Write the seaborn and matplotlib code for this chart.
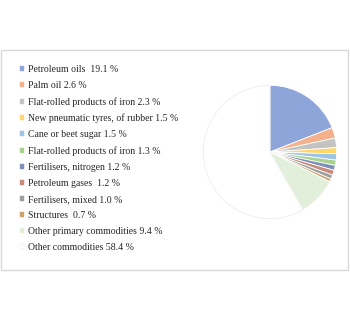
import matplotlib
matplotlib.use("Agg")
import matplotlib.pyplot as plt
from matplotlib.patches import Rectangle, Patch
import seaborn as sns

labels = [
    "Petroleum oils  19.1 %",
    "Palm oil 2.6 %",
    "Flat-rolled products of iron 2.3 %",
    "New pneumatic tyres, of rubber 1.5 %",
    "Cane or beet sugar 1.5 %",
    "Flat-rolled products of iron 1.3 %",
    "Fertilisers, nitrogen 1.2 %",
    "Petroleum gases  1.2 %",
    "Fertilisers, mixed 1.0 %",
    "Structures  0.7 %",
    "Other primary commodities 9.4 %",
    "Other commodities 58.4 %",
]
shares = [19.1, 2.6, 2.3, 1.5, 1.5, 1.3, 1.2, 1.2, 1.0, 0.7, 9.4, 58.4]
colors = [
    "#8EA5DA", "#F4B08A", "#C3C3C3", "#FFD668", "#9DC3E6", "#A9D18E",
    "#7F90B8", "#C98C7A", "#9E9E9E", "#C9A36B", "#E2EFDA", "#FFFFFF",
]

sns.set_theme(style="white")
plt.rcParams["font.family"] = ["Liberation Serif", "DejaVu Serif"]

W, H = 350, 322
fig = plt.figure(figsize=(W / 100, H / 100), dpi=100)
fig.patch.set_facecolor("white")

# chart frame
fig.patches.append(Rectangle((0.5 / W, (H - 270) / H), 347.5 / W, 220 / H,
                             transform=fig.transFigure, fill=False,
                             edgecolor="#D9D9D9", linewidth=1.0))

# pie
cx, cy, r = 270, 152, 68
ax = fig.add_axes([(cx - r) / W, (H - cy - r) / H, 2 * r / W, 2 * r / H])
wedges, _ = ax.pie(shares, colors=colors, startangle=90, counterclock=False,
                   wedgeprops=dict(edgecolor="white", linewidth=0.6),
                   radius=1.0)
wedges[-1].set_edgecolor("#EDEDED")
wedges[-1].set_linewidth(0.6)
ax.set_xlim(-1.02, 1.02)
ax.set_ylim(-1.02, 1.02)
ax.set_aspect("equal")
ax.axis("off")

# legend
handles = [Patch(facecolor=c, edgecolor="#E6E6E6" if c == "#FFFFFF" else c,
                 linewidth=0.3) for c in colors]
leg = fig.legend(handles, labels, loc="upper left",
                 bbox_to_anchor=(20 / W, 1 - 65 / H),
                 frameon=False, fontsize=7, handlelength=0.4,
                 handleheight=0.4, handletextpad=0.4,
                 labelspacing=0.72, borderpad=0, borderaxespad=0)
for t in leg.get_texts():
    t.set_color("#262626")

fig.savefig("out.png", dpi=100)
